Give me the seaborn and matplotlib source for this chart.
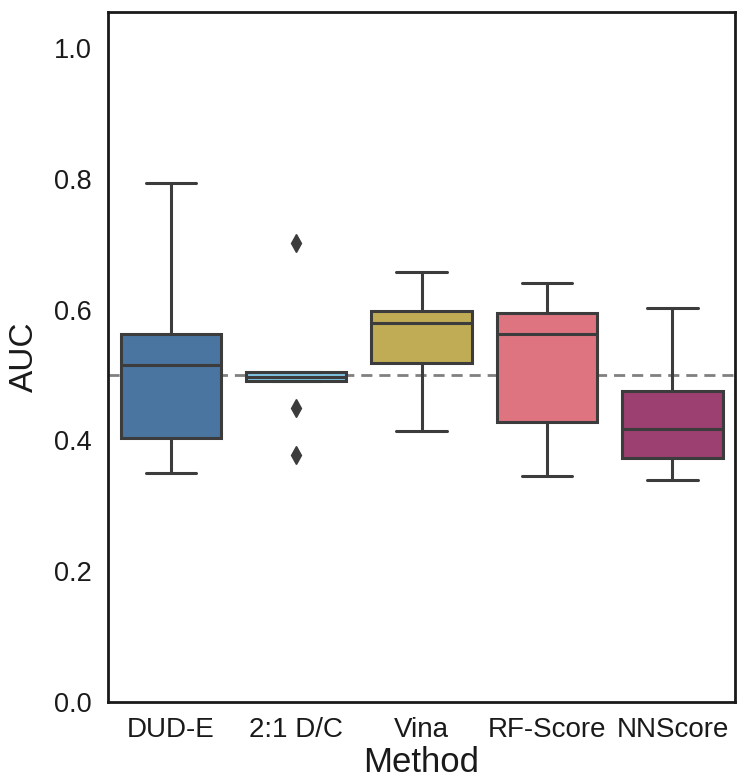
import matplotlib
matplotlib.use("Agg")
import matplotlib.pyplot as plt
import seaborn as sns
import pandas as pd

methods = ["DUD-E", "2:1 D/C", "Vina", "RF-Score", "NNScore"]
auc_dude = [0.350, 0.404, 0.515, 0.563, 0.794]
auc_dc = [0.378, 0.450, 0.491, 0.494, 0.497, 0.501, 0.505, 0.505, 0.702]
auc_vina = [0.414, 0.518, 0.580, 0.598, 0.657]
auc_rf = [0.346, 0.428, 0.563, 0.595, 0.641]
auc_nn = [0.339, 0.373, 0.417, 0.476, 0.602]
colors = ["#4a75a0", "#7ec4e2", "#bfac55", "#dd7480", "#9b4070"]

rows = []
for m, vals in zip(methods, [auc_dude, auc_dc, auc_vina, auc_rf, auc_nn]):
    for v in vals:
        rows.append({"Method": m, "AUC": v})
df = pd.DataFrame(rows)

sns.set_style("white")
plt.rcParams["font.family"] = ["Liberation Sans", "DejaVu Sans"]

fig = plt.figure(figsize=(7.37, 7.83), dpi=100)
ax = fig.add_axes([0.1465, 0.1034, 0.851, 0.8813])

sns.boxplot(data=df, x="Method", y="AUC", hue="Method", palette=colors,
            order=methods, hue_order=methods, legend=False, width=0.8,
            linewidth=2.2, linecolor="#3c3c3c", saturation=1,
            flierprops=dict(marker="d", markersize=9, markerfacecolor="#3c3c3c",
                            markeredgecolor="#3c3c3c"), ax=ax)
ax.axhline(0.5, color="#808080", linestyle=(0, (4, 2.5)), linewidth=2, zorder=0.5)

ax.set_ylim(0, 1.055)
ax.set_yticks([0.0, 0.2, 0.4, 0.6, 0.8, 1.0])
ax.set_yticklabels(["0.0", "0.2", "0.4", "0.6", "0.8", "1.0"])
ax.tick_params(axis="y", labelsize=19.5, length=0, pad=12, labelcolor="#1a1a1a")
ax.tick_params(axis="x", labelsize=20, length=0, pad=11, labelcolor="#1a1a1a")
ax.set_xlabel("Method", fontsize=25, labelpad=2, color="#1a1a1a")
ax.set_ylabel("AUC", fontsize=24, labelpad=10, color="#1a1a1a")
for s in ax.spines.values():
    s.set_color("#1a1a1a")
    s.set_linewidth(2)

fig.savefig("out.png", dpi=100)
